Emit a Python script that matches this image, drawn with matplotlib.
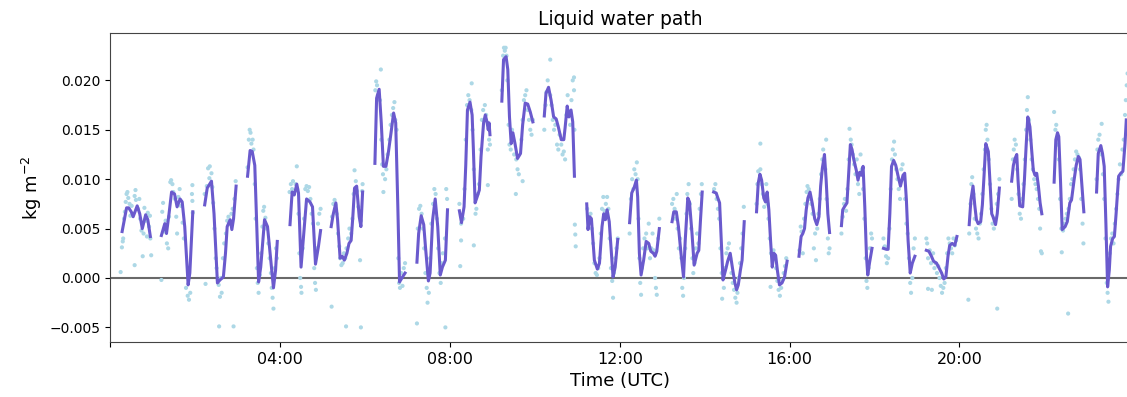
import matplotlib.pyplot as plt
import numpy as np

# Smoothed liquid water path, one list per cloud segment (hours UTC, kg m-2)
line_hours = [
    [0.275, 0.38, 0.43, 0.49, 0.535, 0.63, 0.69, 0.75, 0.83, 0.88, 0.94],
    [1.20, 1.28, 1.32, 1.38, 1.44, 1.51, 1.57, 1.64, 1.69, 1.75, 1.83, 1.87, 1.94],
    [2.22, 2.28, 2.38, 2.44, 2.52, 2.58, 2.66, 2.71, 2.75, 2.82, 2.86, 2.90, 2.96],
    [3.23, 3.29, 3.34, 3.40, 3.49, 3.54, 3.63, 3.70, 3.76, 3.84, 3.89, 3.93],
    [4.23, 4.28, 4.33, 4.39, 4.43, 4.49, 4.54, 4.62, 4.70, 4.76, 4.83, 4.90, 4.95],
    [5.20, 5.25, 5.31, 5.35, 5.41, 5.46, 5.51, 5.57, 5.62, 5.67, 5.71, 5.75, 5.80, 5.86, 5.90, 5.94],
    [6.23, 6.27, 6.33, 6.38, 6.43, 6.49, 6.55, 6.61, 6.67, 6.72, 6.77, 6.81, 6.88, 6.94],
    [7.22, 7.26, 7.32, 7.38, 7.42, 7.49, 7.53, 7.59, 7.65, 7.71, 7.77, 7.82, 7.89, 7.94],
    [8.22, 8.27, 8.33, 8.37, 8.41, 8.47, 8.52, 8.55, 8.59, 8.63, 8.69, 8.73, 8.79, 8.83, 8.87, 8.90, 8.92, 8.94],
    [9.22, 9.26, 9.32, 9.36, 9.40, 9.44, 9.48, 9.53, 9.59, 9.66, 9.71, 9.77, 9.83, 9.89, 9.95],
    [10.22, 10.26, 10.32, 10.38, 10.44, 10.50, 10.55, 10.62, 10.68, 10.71, 10.76, 10.80, 10.85, 10.89, 10.93],
    [11.22, 11.25, 11.29, 11.33, 11.36, 11.40, 11.47, 11.52, 11.58, 11.62, 11.66, 11.70, 11.75, 11.80, 11.84, 11.89, 11.95],
    [12.23, 12.28, 12.34, 12.39, 12.42, 12.46, 12.50, 12.56, 12.62, 12.68, 12.73, 12.79, 12.83, 12.87, 12.93],
    [13.23, 13.27, 13.33, 13.38, 13.44, 13.50, 13.54, 13.60, 13.64, 13.70, 13.75, 13.82, 13.86, 13.90, 13.94],
    [14.21, 14.27, 14.30, 14.35, 14.39, 14.43, 14.49, 14.54, 14.60, 14.66, 14.71, 14.75, 14.79, 14.84, 14.88, 14.93],
    [15.22, 15.26, 15.30, 15.34, 15.39, 15.43, 15.47, 15.51, 15.55, 15.59, 15.63, 15.67, 15.71, 15.76, 15.82, 15.88, 15.94],
    [16.22, 16.27, 16.31, 16.35, 16.39, 16.43, 16.48, 16.53, 16.59, 16.64, 16.69, 16.73, 16.77, 16.82, 16.86, 16.90, 16.94],
    [17.22, 17.25, 17.29, 17.35, 17.39, 17.43, 17.47, 17.51, 17.57, 17.61, 17.65, 17.69, 17.73, 17.77, 17.81, 17.84, 17.88, 17.94],
    [18.21, 18.28, 18.32, 18.36, 18.40, 18.45, 18.50, 18.55, 18.61, 18.67, 18.71, 18.75, 18.79, 18.84, 18.89, 18.95],
    [19.22, 19.28, 19.34, 19.39, 19.46, 19.51, 19.58, 19.63, 19.68, 19.73, 19.77, 19.83, 19.89, 19.94],
    [20.23, 20.27, 20.32, 20.36, 20.40, 20.44, 20.50, 20.54, 20.58, 20.62, 20.68, 20.72, 20.76, 20.79, 20.85, 20.89, 20.94],
    [21.23, 21.27, 21.31, 21.35, 21.38, 21.42, 21.49, 21.53, 21.57, 21.61, 21.66, 21.70, 21.74, 21.78, 21.82, 21.86, 21.90, 21.94],
    [22.23, 22.27, 22.31, 22.34, 22.38, 22.42, 22.49, 22.54, 22.60, 22.64, 22.70, 22.75, 22.80, 22.84, 22.88, 22.93],
    [23.23, 23.27, 23.33, 23.37, 23.41, 23.45, 23.49, 23.53, 23.56, 23.61, 23.65, 23.69, 23.75, 23.80, 23.85, 23.90, 23.93],
]
line_lwp = [
    [0.0047, 0.0071, 0.0071, 0.0067, 0.0062, 0.0073, 0.0065, 0.0050, 0.0064, 0.0059, 0.0042],
    [0.0043, 0.0055, 0.0045, 0.0065, 0.0087, 0.0085, 0.0072, 0.0080, 0.0077, 0.0052, -0.0007, 0.0005, 0.0067],
    [0.0074, 0.0091, 0.0098, 0.0065, -0.0005, -0.0002, 0.0001, 0.0025, 0.0052, 0.0059, 0.0049, 0.0060, 0.0093],
    [0.0103, 0.0129, 0.0128, 0.0114, -0.0004, 0.0011, 0.0059, 0.0052, 0.0025, -0.0010, 0.0008, 0.0037],
    [0.0054, 0.0087, 0.0084, 0.0095, 0.0086, 0.0011, 0.0038, 0.0080, 0.0077, 0.0072, 0.0014, 0.0032, 0.0048],
    [0.0052, 0.0065, 0.0076, 0.0059, 0.0020, 0.0022, 0.0018, 0.0025, 0.0035, 0.0038, 0.0062, 0.0091, 0.0093, 0.0062, 0.0052, 0.0087],
    [0.0116, 0.0182, 0.0191, 0.0157, 0.0113, 0.0113, 0.0128, 0.0147, 0.0167, 0.0157, 0.0072, -0.0004, 0.0001, 0.0005],
    [0.0016, 0.0045, 0.0063, 0.0054, 0.0032, -0.0003, 0.0005, 0.0059, 0.0080, 0.0052, 0.0003, 0.0011, 0.0018, 0.0069],
    [0.0068, 0.0056, 0.0072, 0.0114, 0.0170, 0.0178, 0.0165, 0.0130, 0.0076, 0.0081, 0.0089, 0.0123, 0.0157, 0.0165, 0.0158, 0.0150, 0.0157, 0.0145],
    [0.0179, 0.0221, 0.0224, 0.0211, 0.0163, 0.0136, 0.0147, 0.0136, 0.0121, 0.0126, 0.0155, 0.0177, 0.0176, 0.0168, 0.0158],
    [0.0164, 0.0187, 0.0193, 0.0180, 0.0163, 0.0161, 0.0153, 0.0140, 0.0140, 0.0152, 0.0174, 0.0163, 0.0170, 0.0158, 0.0103],
    [0.0075, 0.0049, 0.0062, 0.0060, 0.0042, 0.0018, 0.0009, 0.0015, 0.0052, 0.0065, 0.0059, 0.0069, 0.0057, 0.0025, 0.0001, 0.0011, 0.0039],
    [0.0056, 0.0086, 0.0092, 0.0099, 0.0082, 0.0025, 0.0003, 0.0018, 0.0037, 0.0035, 0.0027, 0.0025, 0.0022, 0.0027, 0.0050],
    [0.0057, 0.0067, 0.0067, 0.0052, 0.0025, 0.0001, 0.0038, 0.0081, 0.0077, 0.0045, 0.0013, 0.0025, 0.0028, 0.0059, 0.0087],
    [0.0087, 0.0086, 0.0082, 0.0076, 0.0038, -0.0002, 0.0008, 0.0017, 0.0025, 0.0008, -0.0005, -0.0012, -0.0007, 0.0008, 0.0018, 0.0057],
    [0.0067, 0.0096, 0.0105, 0.0099, 0.0081, 0.0077, 0.0087, 0.0069, 0.0038, 0.0011, 0.0025, 0.0023, 0.0008, -0.0007, -0.0005, 0.0001, 0.0017],
    [0.0022, 0.0042, 0.0045, 0.0050, 0.0069, 0.0081, 0.0087, 0.0076, 0.0060, 0.0054, 0.0062, 0.0093, 0.0111, 0.0125, 0.0099, 0.0065, 0.0046],
    [0.0053, 0.0069, 0.0072, 0.0076, 0.0106, 0.0135, 0.0130, 0.0120, 0.0109, 0.0099, 0.0107, 0.0104, 0.0113, 0.0072, 0.0022, 0.0003, 0.0015, 0.0030],
    [0.0030, 0.0029, 0.0029, 0.0065, 0.0113, 0.0119, 0.0114, 0.0104, 0.0093, 0.0104, 0.0106, 0.0079, 0.0038, 0.0005, 0.0015, 0.0022],
    [0.0028, 0.0027, 0.0022, 0.0017, 0.0015, 0.0011, 0.0005, -0.0001, 0.0001, 0.0022, 0.0033, 0.0035, 0.0033, 0.0042],
    [0.0054, 0.0079, 0.0093, 0.0074, 0.0059, 0.0055, 0.0057, 0.0074, 0.0104, 0.0136, 0.0128, 0.0096, 0.0065, 0.0062, 0.0054, 0.0065, 0.0091],
    [0.0098, 0.0114, 0.0121, 0.0125, 0.0099, 0.0073, 0.0072, 0.0099, 0.0133, 0.0163, 0.0153, 0.0130, 0.0109, 0.0104, 0.0106, 0.0093, 0.0076, 0.0065],
    [0.0097, 0.0140, 0.0147, 0.0143, 0.0099, 0.0049, 0.0052, 0.0057, 0.0076, 0.0079, 0.0099, 0.0114, 0.0123, 0.0120, 0.0096, 0.0067],
    [0.0087, 0.0126, 0.0134, 0.0126, 0.0113, 0.0055, -0.0009, 0.0008, 0.0032, 0.0040, 0.0042, 0.0065, 0.0103, 0.0106, 0.0108, 0.0136, 0.0160],
]

# Raw retrievals (light blue dots), one row per segment
obs_hours = [
    [0.24, 0.27, 0.29, 0.30, 0.32, 0.34, 0.36, 0.38, 0.40, 0.42, 0.45, 0.47, 0.50, 0.52, 0.57, 0.57, 0.59, 0.60, 0.65, 0.68, 0.70, 0.73, 0.76, 0.78, 0.80, 0.83, 0.86, 0.88, 0.91, 0.93, 0.94, 0.96],
    [1.20, 1.22, 1.24, 1.26, 1.30, 1.33, 1.36, 1.38, 1.41, 1.43, 1.46, 1.48, 1.52, 1.55, 1.57, 1.60, 1.63, 1.66, 1.70, 1.73, 1.78, 1.82, 1.85, 1.88, 1.92, 1.93, 1.93, 1.94],
    [2.22, 2.24, 2.27, 2.30, 2.33, 2.34, 2.38, 2.40, 2.42, 2.45, 2.48, 2.50, 2.53, 2.55, 2.58, 2.56, 2.60, 2.62, 2.65, 2.68, 2.72, 2.75, 2.78, 2.80, 2.90, 2.85, 2.88, 2.92, 2.95],
    [3.23, 3.26, 3.28, 3.30, 3.32, 3.35, 3.37, 3.40, 3.42, 3.45, 3.47, 3.49, 3.52, 3.55, 3.58, 3.60, 3.62, 3.65, 3.68, 3.72, 3.75, 3.78, 3.80, 3.82, 3.84, 3.87, 3.90, 3.92],
    [4.22, 4.25, 4.28, 4.30, 4.39, 4.36, 4.40, 4.43, 4.45, 4.47, 4.49, 4.50, 4.53, 4.56, 4.59, 4.62, 4.65, 4.68, 4.71, 4.74, 4.77, 4.80, 4.82, 4.84, 4.86, 4.89, 4.92, 4.95, 5.21, 5.55, 5.90],
    [5.22, 5.25, 5.28, 5.30, 5.33, 5.36, 5.39, 5.41, 5.44, 5.47, 5.50, 5.53, 5.56, 5.60, 5.63, 5.67, 5.70, 5.73, 5.75, 5.78, 5.81, 5.84, 5.88, 5.90, 5.93, 5.94],
    [6.24, 6.26, 6.28, 6.30, 6.37, 6.35, 6.38, 6.40, 6.42, 6.43, 6.47, 6.50, 6.53, 6.57, 6.60, 6.63, 6.66, 6.69, 6.71, 6.74, 6.78, 6.80, 6.82, 6.85, 6.88, 6.91, 6.94],
    [7.22, 7.24, 7.27, 7.30, 7.33, 7.36, 7.39, 7.42, 7.45, 7.47, 7.50, 7.53, 7.56, 7.60, 7.63, 7.66, 7.69, 7.72, 7.75, 7.78, 7.80, 7.83, 7.89, 7.88, 7.91, 7.93],
    [8.22, 8.24, 8.26, 8.26, 8.31, 8.34, 8.37, 8.40, 8.43, 8.46, 8.51, 8.50, 8.53, 8.56, 8.56, 8.60, 8.62, 8.65, 8.68, 8.72, 8.75, 8.78, 8.82, 8.85, 8.89, 8.89, 8.92, 8.94],
    [9.22, 9.25, 9.27, 9.29, 9.31, 9.33, 9.35, 9.38, 9.40, 9.43, 9.46, 9.48, 9.51, 9.55, 9.56, 9.59, 9.62, 9.71, 9.68, 9.71, 9.74, 9.77, 9.80, 9.83, 9.86, 9.89, 9.92, 9.95],
    [10.22, 10.25, 10.27, 10.30, 10.36, 10.36, 10.39, 10.42, 10.45, 10.48, 10.52, 10.55, 10.58, 10.62, 10.65, 10.68, 10.71, 10.74, 10.77, 10.92, 10.83, 10.86, 10.89, 10.92, 10.93, 10.94, 10.95, 10.96],
    [11.23, 11.26, 11.28, 11.31, 11.34, 11.37, 11.40, 11.43, 11.46, 11.49, 11.52, 11.55, 11.58, 11.61, 11.64, 11.67, 11.70, 11.73, 11.76, 11.79, 11.82, 11.84, 11.86, 11.89, 11.92, 11.95],
    [12.23, 12.26, 12.29, 12.32, 12.34, 12.37, 12.40, 12.42, 12.44, 12.46, 12.48, 12.50, 12.52, 12.55, 12.58, 12.62, 12.65, 12.68, 12.71, 12.74, 12.77, 12.80, 12.83, 12.85, 12.87, 12.90, 12.93],
    [13.23, 13.26, 13.29, 13.31, 13.34, 13.36, 13.39, 13.42, 13.45, 13.47, 13.49, 13.51, 13.54, 13.57, 13.59, 13.62, 13.65, 13.68, 13.71, 13.73, 13.76, 13.79, 13.82, 13.85, 13.88, 13.91, 13.93],
    [14.22, 14.25, 14.28, 14.31, 14.34, 14.37, 14.40, 14.41, 14.45, 14.48, 14.51, 14.54, 14.57, 14.60, 14.63, 14.66, 14.69, 14.72, 14.75, 14.77, 14.80, 14.83, 14.86, 14.89, 14.92],
    [15.22, 15.24, 15.26, 15.31, 15.31, 15.34, 15.37, 15.40, 15.43, 15.45, 15.48, 15.50, 15.53, 15.56, 15.55, 15.62, 15.65, 15.68, 15.71, 15.74, 15.77, 15.80, 15.83, 15.86, 15.89, 15.92],
    [16.23, 16.26, 16.28, 16.31, 16.34, 16.37, 16.40, 16.42, 16.45, 16.48, 16.51, 16.54, 16.57, 16.60, 16.62, 16.65, 16.68, 16.71, 16.74, 16.77, 16.79, 16.86, 16.84, 16.87, 16.90, 16.92, 16.94],
    [17.22, 17.25, 17.28, 17.30, 17.33, 17.36, 17.39, 17.41, 17.44, 17.46, 17.49, 17.52, 17.55, 17.58, 17.61, 17.64, 17.67, 17.70, 17.73, 17.76, 17.79, 17.81, 17.83, 17.86, 17.89, 17.92, 17.94],
    [18.21, 18.24, 18.27, 18.29, 18.32, 18.35, 18.38, 18.41, 18.43, 18.46, 18.48, 18.51, 18.54, 18.57, 18.60, 18.63, 18.66, 18.69, 18.72, 18.75, 18.78, 18.81, 18.84, 18.86, 18.89, 18.92, 18.95],
    [19.22, 19.24, 19.26, 19.26, 19.30, 19.33, 19.35, 19.38, 19.41, 19.44, 19.47, 19.50, 19.53, 19.56, 19.59, 19.62, 19.65, 19.68, 19.71, 19.74, 19.77, 19.80, 19.83, 19.86, 19.89, 19.92],
    [20.21, 20.23, 20.26, 20.28, 20.30, 20.33, 20.36, 20.39, 20.42, 20.45, 20.48, 20.51, 20.54, 20.57, 20.60, 20.62, 20.64, 20.66, 20.69, 20.72, 20.75, 20.78, 20.81, 20.84, 20.89, 20.88, 20.91, 20.94],
    [21.23, 21.26, 21.28, 21.30, 21.33, 21.36, 21.39, 21.42, 21.45, 21.48, 21.51, 21.54, 21.57, 21.59, 21.61, 21.64, 21.67, 21.70, 21.73, 21.76, 21.79, 21.82, 21.85, 21.88, 21.90, 21.92, 21.94],
    [22.23, 22.26, 22.28, 22.31, 22.34, 22.37, 22.40, 22.41, 22.44, 22.47, 22.50, 22.53, 22.56, 22.57, 22.60, 22.63, 22.66, 22.69, 22.72, 22.75, 22.78, 22.81, 22.84, 22.87, 22.90, 22.92],
    [23.23, 23.25, 23.27, 23.30, 23.35, 23.35, 23.38, 23.41, 23.44, 23.47, 23.49, 23.51, 23.54, 23.57, 23.60, 23.63, 23.66, 23.69, 23.72, 23.75, 23.78, 23.81, 23.84, 23.87, 23.90, 23.92, 23.94, 23.96],
]
obs_lwp = [
    [0.0006, 0.0031, 0.0037, 0.0040, 0.0060, 0.0067, 0.0077, 0.0085, 0.0087, 0.0081, 0.0075, 0.0063, 0.0073, 0.0065, 0.0013, 0.0083, 0.0089, 0.0079, 0.0070, 0.0080, 0.0060, 0.0048, 0.0022, 0.0045, 0.0071, 0.0058, 0.0042, 0.0066, 0.0052, 0.0063, 0.0040, 0.0023],
    [-0.0002, 0.0067, 0.0076, 0.0047, 0.0058, 0.0035, 0.0030, 0.0062, 0.0097, 0.0099, 0.0095, 0.0087, 0.0080, 0.0062, 0.0045, 0.0082, 0.0090, 0.0073, 0.0056, 0.0040, -0.0010, -0.0018, -0.0022, -0.0015, 0.0085, 0.0094, 0.0078, 0.0066],
    [0.0085, -0.0006, 0.0093, 0.0111, 0.0101, 0.0113, 0.0106, 0.0092, 0.0076, 0.0050, 0.0020, 0.0010, -0.0002, -0.0007, -0.0019, -0.0049, 0.0000, -0.0015, 0.0020, 0.0035, 0.0045, 0.0058, 0.0062, 0.0055, -0.0049, 0.0065, 0.0070, 0.0080, 0.0098],
    [0.0112, 0.0140, 0.0150, 0.0147, 0.0136, 0.0140, 0.0130, 0.0095, 0.0060, 0.0010, -0.0005, -0.0015, 0.0003, 0.0025, 0.0052, 0.0068, 0.0072, 0.0061, 0.0050, 0.0035, 0.0020, 0.0005, -0.0010, -0.0020, -0.0031, 0.0010, 0.0030, 0.0020],
    [0.0087, 0.0095, 0.0090, 0.0098, 0.0113, 0.0095, 0.0090, 0.0065, 0.0025, 0.0000, -0.0009, -0.0015, 0.0030, 0.0060, 0.0090, 0.0093, 0.0088, 0.0092, 0.0080, 0.0065, 0.0055, 0.0010, -0.0005, -0.0012, 0.0030, 0.0055, 0.0065, 0.0070, -0.0029, -0.0049, -0.0050],
    [0.0062, 0.0075, 0.0079, 0.0074, 0.0065, 0.0045, 0.0032, 0.0020, 0.0013, 0.0015, 0.0025, 0.0020, 0.0030, 0.0040, 0.0050, 0.0045, 0.0060, 0.0085, 0.0109, 0.0098, 0.0088, 0.0072, 0.0018, 0.0058, 0.0088, 0.0095],
    [0.0190, 0.0199, 0.0195, 0.0185, 0.0211, 0.0180, 0.0140, 0.0115, 0.0105, 0.0087, 0.0100, 0.0110, 0.0125, 0.0140, 0.0155, 0.0165, 0.0172, 0.0178, 0.0160, 0.0150, 0.0020, -0.0005, -0.0010, 0.0005, -0.0008, 0.0010, 0.0015],
    [-0.0046, 0.0050, 0.0070, 0.0073, 0.0065, 0.0050, 0.0030, 0.0005, -0.0010, -0.0025, -0.0015, 0.0020, 0.0055, 0.0075, 0.0090, 0.0085, 0.0060, 0.0030, 0.0005, -0.0005, 0.0015, 0.0025, -0.0050, 0.0040, 0.0090, 0.0080],
    [0.0075, 0.0012, 0.0055, 0.0038, 0.0060, 0.0090, 0.0140, 0.0175, 0.0185, 0.0180, 0.0197, 0.0170, 0.0150, 0.0110, 0.0033, 0.0065, 0.0070, 0.0085, 0.0095, 0.0130, 0.0160, 0.0170, 0.0175, 0.0165, 0.0094, 0.0130, 0.0140, 0.0135],
    [0.0190, 0.0225, 0.0233, 0.0230, 0.0233, 0.0225, 0.0200, 0.0155, 0.0135, 0.0130, 0.0150, 0.0140, 0.0125, 0.0085, 0.0120, 0.0110, 0.0105, 0.0098, 0.0140, 0.0160, 0.0180, 0.0185, 0.0190, 0.0170, 0.0160, 0.0150, 0.0145, 0.0160],
    [0.0150, 0.0175, 0.0188, 0.0200, 0.0221, 0.0185, 0.0175, 0.0160, 0.0150, 0.0155, 0.0135, 0.0130, 0.0145, 0.0135, 0.0125, 0.0128, 0.0120, 0.0165, 0.0185, 0.0203, 0.0155, 0.0180, 0.0200, 0.0190, 0.0150, 0.0054, 0.0044, 0.0032],
    [0.0070, 0.0063, 0.0060, 0.0065, 0.0050, 0.0035, 0.0015, 0.0005, 0.0003, 0.0010, 0.0020, 0.0045, 0.0070, 0.0082, 0.0068, 0.0075, 0.0082, 0.0070, 0.0040, 0.0010, -0.0003, -0.0020, 0.0005, 0.0020, 0.0030, 0.0040],
    [0.0045, 0.0080, 0.0100, 0.0090, 0.0110, 0.0105, 0.0117, 0.0100, 0.0060, 0.0020, -0.0005, -0.0017, 0.0010, 0.0030, 0.0040, 0.0045, 0.0030, 0.0055, 0.0020, 0.0030, 0.0045, 0.0028, 0.0000, -0.0010, -0.0017, 0.0040, 0.0060],
    [0.0075, 0.0080, 0.0070, 0.0060, 0.0085, 0.0050, 0.0030, 0.0040, 0.0020, -0.0010, -0.0018, 0.0000, 0.0030, 0.0065, 0.0085, 0.0095, 0.0075, 0.0050, 0.0020, 0.0005, 0.0015, 0.0030, 0.0045, 0.0035, 0.0070, 0.0085, 0.0095],
    [0.0090, 0.0095, 0.0080, 0.0070, 0.0060, 0.0030, 0.0005, -0.0021, -0.0010, 0.0010, 0.0025, 0.0030, 0.0035, 0.0020, 0.0005, -0.0005, -0.0012, -0.0020, -0.0025, -0.0015, 0.0000, 0.0015, 0.0030, 0.0045, 0.0072],
    [0.0075, 0.0095, 0.0108, 0.0136, 0.0110, 0.0095, 0.0085, 0.0072, 0.0080, 0.0095, 0.0075, 0.0060, 0.0040, 0.0025, -0.0009, 0.0028, 0.0020, 0.0010, -0.0003, -0.0012, -0.0018, -0.0010, -0.0002, 0.0005, 0.0012, 0.0020],
    [0.0028, 0.0052, 0.0047, 0.0025, 0.0060, 0.0075, 0.0087, 0.0093, 0.0090, 0.0080, 0.0075, 0.0065, 0.0030, 0.0045, 0.0018, 0.0050, 0.0065, 0.0080, 0.0105, 0.0120, 0.0130, 0.0140, 0.0110, 0.0080, 0.0040, 0.0025, 0.0030],
    [0.0045, 0.0062, 0.0075, 0.0080, 0.0068, 0.0090, 0.0120, 0.0151, 0.0140, 0.0135, 0.0125, 0.0115, 0.0105, 0.0120, 0.0095, 0.0085, 0.0125, 0.0110, 0.0090, 0.0060, 0.0020, -0.0003, -0.0010, 0.0010, 0.0030, 0.0045, 0.0040],
    [0.0040, 0.0032, 0.0022, 0.0015, 0.0020, 0.0050, 0.0090, 0.0120, 0.0130, 0.0138, 0.0125, 0.0110, 0.0100, 0.0090, 0.0080, 0.0110, 0.0115, 0.0100, 0.0080, 0.0055, 0.0045, 0.0020, -0.0005, -0.0015, 0.0000, 0.0030, 0.0040],
    [0.0040, 0.0035, 0.0020, -0.0011, 0.0028, 0.0015, -0.0012, 0.0025, 0.0010, 0.0015, 0.0005, 0.0012, 0.0000, -0.0008, -0.0015, -0.0010, -0.0005, 0.0010, 0.0025, 0.0040, 0.0035, 0.0030, 0.0025, 0.0040, 0.0033, 0.0038],
    [-0.0022, 0.0045, 0.0075, 0.0095, 0.0102, 0.0085, 0.0060, 0.0050, 0.0045, 0.0040, 0.0055, 0.0065, 0.0085, 0.0110, 0.0130, 0.0150, 0.0155, 0.0140, 0.0120, 0.0095, 0.0070, 0.0055, 0.0050, 0.0060, -0.0031, 0.0075, 0.0085, 0.0100],
    [0.0080, 0.0120, 0.0130, 0.0140, 0.0135, 0.0110, 0.0085, 0.0065, 0.0060, 0.0080, 0.0095, 0.0120, 0.0150, 0.0170, 0.0183, 0.0160, 0.0140, 0.0120, 0.0110, 0.0100, 0.0095, 0.0090, 0.0080, 0.0070, 0.0050, 0.0027, 0.0025],
    [0.0168, 0.0150, 0.0155, 0.0135, 0.0120, 0.0080, 0.0050, 0.0026, 0.0048, 0.0055, 0.0060, 0.0065, -0.0036, 0.0070, 0.0080, 0.0095, 0.0100, 0.0110, 0.0120, 0.0128, 0.0125, 0.0122, 0.0110, 0.0080, 0.0055, 0.0035],
    [0.0100, 0.0130, 0.0140, 0.0145, 0.0156, 0.0125, 0.0105, 0.0080, 0.0040, -0.0005, -0.0015, -0.0024, 0.0025, 0.0040, 0.0045, 0.0035, 0.0055, 0.0070, 0.0085, 0.0100, 0.0115, 0.0105, 0.0130, 0.0140, 0.0165, 0.0180, 0.0195, 0.0207],
]

tick_hours = [0, 4, 8, 12, 16, 20]
tick_labels = ["", "04:00", "08:00", "12:00", "16:00", "20:00"]


def with_gaps(segments):
    """Join segments into one array, NaN between them so the line breaks."""
    out = []
    for seg in segments:
        out.extend(seg)
        out.append(np.nan)
    return np.array(out[:-1], dtype=float)


fig = plt.figure(figsize=(11.27, 3.97), dpi=100)
ax = fig.add_axes([0.098, 0.138, 0.904, 0.779])

ax.scatter(np.concatenate(obs_hours), np.concatenate(obs_lwp),
           s=9, color="lightblue", edgecolors="none", zorder=2)
ax.plot(with_gaps(line_hours), with_gaps(line_lwp),
        color="slateblue", linewidth=2.2, zorder=3)
ax.axhline(0, color="dimgray", linewidth=1.5, zorder=1)

ax.set_xlim(0, 24)
ax.set_ylim(-0.0065, 0.0248)
ax.set_yticks([-0.005, 0.0, 0.005, 0.010, 0.015, 0.020])
ax.set_xticks(tick_hours)
ax.set_xticklabels(tick_labels)
ax.tick_params(axis="x", labelsize=11.5)
ax.tick_params(axis="y", labelsize=10)

ax.set_title("Liquid water path", fontsize=13.5)
ax.set_xlabel("Time (UTC)", fontsize=13)
ax.set_ylabel("kg m$^{-2}$", fontsize=13)
for side in ["top", "bottom", "left", "right"]:
    ax.spines[side].set_color("#444444")

fig.savefig("out.png", dpi=100)
